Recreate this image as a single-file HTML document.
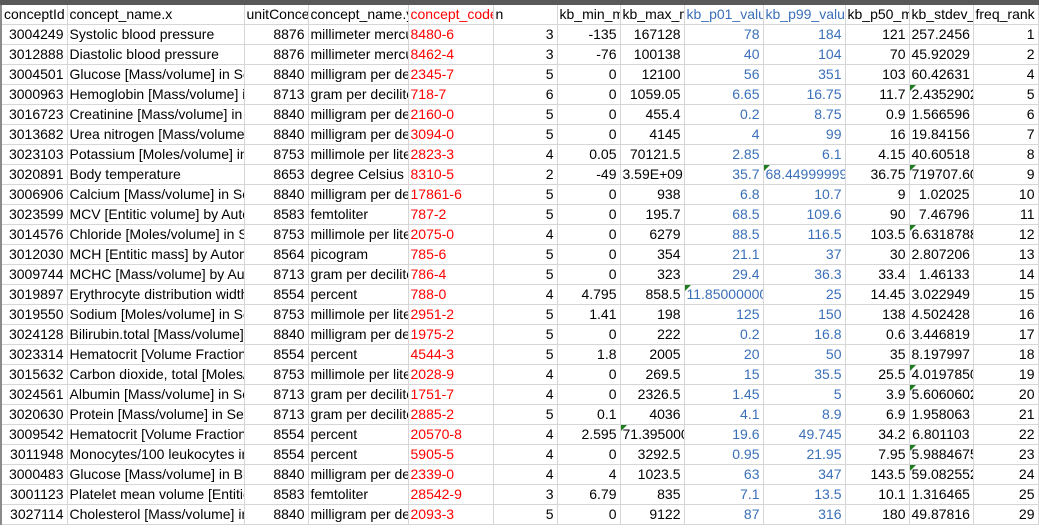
<!DOCTYPE html>
<html><head><meta charset="utf-8"><style>
html,body{margin:0;padding:0;background:#fff;width:1039px;height:529px;overflow:hidden}
.bar{position:absolute;left:0;top:0;width:1039px;height:5px;background:#595959}
table{position:absolute;left:0;top:5px;width:1037px;max-width:1037px;border-collapse:collapse;table-layout:fixed;font-family:"Liberation Sans",Arial,sans-serif;font-size:14px;color:#000}
td{height:19px;border:1px solid #d6d6d6;padding:0 3px 0 2px;white-space:nowrap;overflow:hidden;text-overflow:clip;line-height:19px;position:relative;text-align:left;max-width:0}
td.r{text-align:right}
.red{color:#ff0000}
.b{color:#3a6fb8}
.t::before{content:"";position:absolute;left:0;top:0;border-top:6px solid #1e7b1e;border-right:6px solid transparent}
tr.h td{border-top:none}
td:first-child{border-left:2px solid #8a8a8a}
</style></head><body>
<div class="bar"></div>
<table>
<colgroup><col style="width:66px"><col style="width:177px"><col style="width:64px"><col style="width:100px"><col style="width:85px"><col style="width:64px"><col style="width:63px"><col style="width:64px"><col style="width:79px"><col style="width:82px"><col style="width:64px"><col style="width:64px"><col style="width:65px"></colgroup>
<tr class="h"><td>conceptId</td><td>concept_name.x</td><td>unitConceptId</td><td>concept_name.y</td><td class="red">concept_code</td><td>n</td><td>kb_min_m</td><td>kb_max_m</td><td class="b">kb_p01_value</td><td class="b">kb_p99_value</td><td>kb_p50_m</td><td>kb_stdev_m</td><td>freq_rank</td></tr>
<tr><td class="r">3004249</td><td>Systolic blood pressure</td><td class="r">8876</td><td>millimeter mercury</td><td class="red">8480-6</td><td class="r">3</td><td class="r">-135</td><td class="r">167128</td><td class="r b">78</td><td class="r b">184</td><td class="r">121</td><td class="r">257.2456</td><td class="r">1</td></tr>
<tr><td class="r">3012888</td><td>Diastolic blood pressure</td><td class="r">8876</td><td>millimeter mercury</td><td class="red">8462-4</td><td class="r">3</td><td class="r">-76</td><td class="r">100138</td><td class="r b">40</td><td class="r b">104</td><td class="r">70</td><td class="r">45.92029</td><td class="r">2</td></tr>
<tr><td class="r">3004501</td><td>Glucose [Mass/volume] in Serum</td><td class="r">8840</td><td>milligram per deciliter</td><td class="red">2345-7</td><td class="r">5</td><td class="r">0</td><td class="r">12100</td><td class="r b">56</td><td class="r b">351</td><td class="r">103</td><td class="r">60.42631</td><td class="r">4</td></tr>
<tr><td class="r">3000963</td><td>Hemoglobin [Mass/volume] in Blood</td><td class="r">8713</td><td>gram per deciliter</td><td class="red">718-7</td><td class="r">6</td><td class="r">0</td><td class="r">1059.05</td><td class="r b">6.65</td><td class="r b">16.75</td><td class="r">11.7</td><td class="t">2.43529020</td><td class="r">5</td></tr>
<tr><td class="r">3016723</td><td>Creatinine [Mass/volume] in Serum</td><td class="r">8840</td><td>milligram per deciliter</td><td class="red">2160-0</td><td class="r">5</td><td class="r">0</td><td class="r">455.4</td><td class="r b">0.2</td><td class="r b">8.75</td><td class="r">0.9</td><td class="r">1.566596</td><td class="r">6</td></tr>
<tr><td class="r">3013682</td><td>Urea nitrogen [Mass/volume] in Serum</td><td class="r">8840</td><td>milligram per deciliter</td><td class="red">3094-0</td><td class="r">5</td><td class="r">0</td><td class="r">4145</td><td class="r b">4</td><td class="r b">99</td><td class="r">16</td><td class="r">19.84156</td><td class="r">7</td></tr>
<tr><td class="r">3023103</td><td>Potassium [Moles/volume] in Serum</td><td class="r">8753</td><td>millimole per liter</td><td class="red">2823-3</td><td class="r">4</td><td class="r">0.05</td><td class="r">70121.5</td><td class="r b">2.85</td><td class="r b">6.1</td><td class="r">4.15</td><td class="r">40.60518</td><td class="r">8</td></tr>
<tr><td class="r">3020891</td><td>Body temperature</td><td class="r">8653</td><td>degree Celsius</td><td class="red">8310-5</td><td class="r">2</td><td class="r">-49</td><td class="r">3.59E+09</td><td class="r b">35.7</td><td class="b t">68.4499999999</td><td class="r">36.75</td><td class="t">719707.605</td><td class="r">9</td></tr>
<tr><td class="r">3006906</td><td>Calcium [Mass/volume] in Serum</td><td class="r">8840</td><td>milligram per deciliter</td><td class="red">17861-6</td><td class="r">5</td><td class="r">0</td><td class="r">938</td><td class="r b">6.8</td><td class="r b">10.7</td><td class="r">9</td><td class="r">1.02025</td><td class="r">10</td></tr>
<tr><td class="r">3023599</td><td>MCV [Entitic volume] by Automated</td><td class="r">8583</td><td>femtoliter</td><td class="red">787-2</td><td class="r">5</td><td class="r">0</td><td class="r">195.7</td><td class="r b">68.5</td><td class="r b">109.6</td><td class="r">90</td><td class="r">7.46796</td><td class="r">11</td></tr>
<tr><td class="r">3014576</td><td>Chloride [Moles/volume] in Serum</td><td class="r">8753</td><td>millimole per liter</td><td class="red">2075-0</td><td class="r">4</td><td class="r">0</td><td class="r">6279</td><td class="r b">88.5</td><td class="r b">116.5</td><td class="r">103.5</td><td class="t">6.63187880</td><td class="r">12</td></tr>
<tr><td class="r">3012030</td><td>MCH [Entitic mass] by Automated</td><td class="r">8564</td><td>picogram</td><td class="red">785-6</td><td class="r">5</td><td class="r">0</td><td class="r">354</td><td class="r b">21.1</td><td class="r b">37</td><td class="r">30</td><td class="r">2.807206</td><td class="r">13</td></tr>
<tr><td class="r">3009744</td><td>MCHC [Mass/volume] by Automated</td><td class="r">8713</td><td>gram per deciliter</td><td class="red">786-4</td><td class="r">5</td><td class="r">0</td><td class="r">323</td><td class="r b">29.4</td><td class="r b">36.3</td><td class="r">33.4</td><td class="r">1.46133</td><td class="r">14</td></tr>
<tr><td class="r">3019897</td><td>Erythrocyte distribution width</td><td class="r">8554</td><td>percent</td><td class="red">788-0</td><td class="r">4</td><td class="r">4.795</td><td class="r">858.5</td><td class="b t">11.8500000000</td><td class="r b">25</td><td class="r">14.45</td><td class="r">3.022949</td><td class="r">15</td></tr>
<tr><td class="r">3019550</td><td>Sodium [Moles/volume] in Serum</td><td class="r">8753</td><td>millimole per liter</td><td class="red">2951-2</td><td class="r">5</td><td class="r">1.41</td><td class="r">198</td><td class="r b">125</td><td class="r b">150</td><td class="r">138</td><td class="r">4.502428</td><td class="r">16</td></tr>
<tr><td class="r">3024128</td><td>Bilirubin.total [Mass/volume] in</td><td class="r">8840</td><td>milligram per deciliter</td><td class="red">1975-2</td><td class="r">5</td><td class="r">0</td><td class="r">222</td><td class="r b">0.2</td><td class="r b">16.8</td><td class="r">0.6</td><td class="r">3.446819</td><td class="r">17</td></tr>
<tr><td class="r">3023314</td><td>Hematocrit [Volume Fraction] of</td><td class="r">8554</td><td>percent</td><td class="red">4544-3</td><td class="r">5</td><td class="r">1.8</td><td class="r">2005</td><td class="r b">20</td><td class="r b">50</td><td class="r">35</td><td class="r">8.197997</td><td class="r">18</td></tr>
<tr><td class="r">3015632</td><td>Carbon dioxide, total [Moles/volume]</td><td class="r">8753</td><td>millimole per liter</td><td class="red">2028-9</td><td class="r">4</td><td class="r">0</td><td class="r">269.5</td><td class="r b">15</td><td class="r b">35.5</td><td class="r">25.5</td><td class="t">4.01978502</td><td class="r">19</td></tr>
<tr><td class="r">3024561</td><td>Albumin [Mass/volume] in Serum</td><td class="r">8713</td><td>gram per deciliter</td><td class="red">1751-7</td><td class="r">4</td><td class="r">0</td><td class="r">2326.5</td><td class="r b">1.45</td><td class="r b">5</td><td class="r">3.9</td><td class="t">5.60606023</td><td class="r">20</td></tr>
<tr><td class="r">3020630</td><td>Protein [Mass/volume] in Serum</td><td class="r">8713</td><td>gram per deciliter</td><td class="red">2885-2</td><td class="r">5</td><td class="r">0.1</td><td class="r">4036</td><td class="r b">4.1</td><td class="r b">8.9</td><td class="r">6.9</td><td class="r">1.958063</td><td class="r">21</td></tr>
<tr><td class="r">3009542</td><td>Hematocrit [Volume Fraction] of</td><td class="r">8554</td><td>percent</td><td class="red">20570-8</td><td class="r">4</td><td class="r">2.595</td><td class="t">71.3950000</td><td class="r b">19.6</td><td class="r b">49.745</td><td class="r">34.2</td><td class="r">6.801103</td><td class="r">22</td></tr>
<tr><td class="r">3011948</td><td>Monocytes/100 leukocytes in Blood</td><td class="r">8554</td><td>percent</td><td class="red">5905-5</td><td class="r">4</td><td class="r">0</td><td class="r">3292.5</td><td class="r b">0.95</td><td class="r b">21.95</td><td class="r">7.95</td><td class="t">5.98846751</td><td class="r">23</td></tr>
<tr><td class="r">3000483</td><td>Glucose [Mass/volume] in Blood</td><td class="r">8840</td><td>milligram per deciliter</td><td class="red">2339-0</td><td class="r">4</td><td class="r">4</td><td class="r">1023.5</td><td class="r b">63</td><td class="r b">347</td><td class="r">143.5</td><td class="t">59.0825529</td><td class="r">24</td></tr>
<tr><td class="r">3001123</td><td>Platelet mean volume [Entitic volume]</td><td class="r">8583</td><td>femtoliter</td><td class="red">28542-9</td><td class="r">3</td><td class="r">6.79</td><td class="r">835</td><td class="r b">7.1</td><td class="r b">13.5</td><td class="r">10.1</td><td class="r">1.316465</td><td class="r">25</td></tr>
<tr><td class="r">3027114</td><td>Cholesterol [Mass/volume] in Serum</td><td class="r">8840</td><td>milligram per deciliter</td><td class="red">2093-3</td><td class="r">5</td><td class="r">0</td><td class="r">9122</td><td class="r b">87</td><td class="r b">316</td><td class="r">180</td><td class="r">49.87816</td><td class="r">29</td></tr>
</table>
</body></html>
